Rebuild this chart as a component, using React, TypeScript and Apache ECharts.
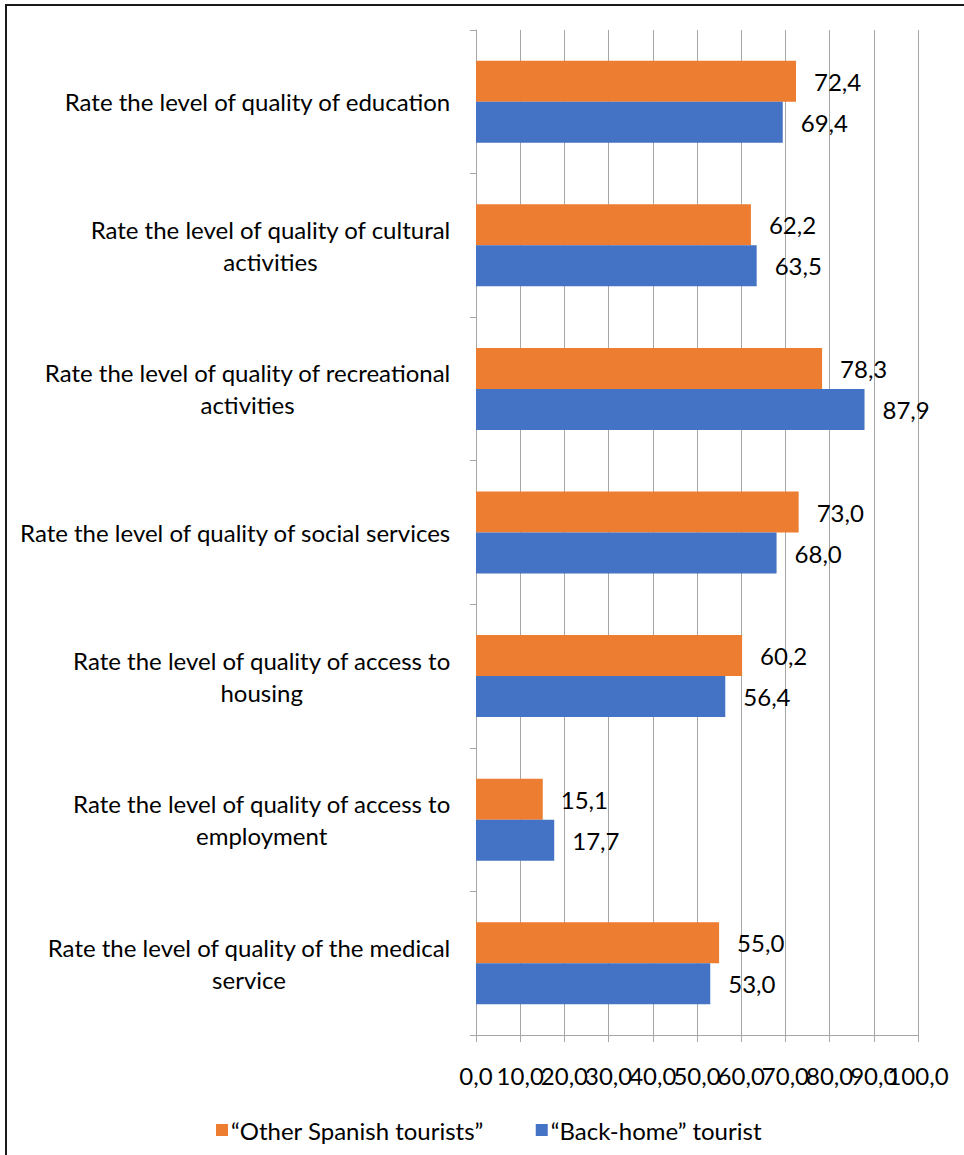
import React, { useEffect, useRef } from "react";
import * as echarts from "echarts";

const categories = [
  "Rate the level of quality of education",
  "Rate the level of quality of cultural\nactivities",
  "Rate the level of quality of recreational\nactivities",
  "Rate the level of quality of social services",
  "Rate the level of quality of access to\nhousing",
  "Rate the level of quality of access to\nemployment",
  "Rate the level of quality of the medical\nservice",
];

const otherSpanish = [72.4, 62.2, 78.3, 73.0, 60.2, 15.1, 55.0];
const backHome = [69.4, 63.5, 87.9, 68.0, 56.4, 17.7, 53.0];

const seriesNames = ["\u201COther Spanish tourists\u201D", "\u201CBack-home\u201D tourist"];

const AXIS_MIN = 0;
const AXIS_MAX = 100;
const AXIS_STEP = 10;

const FONT = "Lato, 'Noto Sans', sans-serif";
const fmt = (v: number) => v.toFixed(1).replace(".", ",");

export default function App() {
  const ref = useRef<HTMLDivElement>(null);

  useEffect(() => {
    if (!ref.current) return;
    const chart = echarts.init(ref.current, undefined, { renderer: "svg" });

    const valueLabel = {
      show: true,
      position: "right" as const,
      distance: 18,
      color: "#000",
      fontSize: 24,
      fontFamily: FONT,
      formatter: (p: any) => fmt(p.value),
    };

    const tickLabelStyle = {
      color: "#000",
      fontSize: 24,
      fontFamily: FONT,
      margin: 28,
      hideOverlap: false,
      showMinLabel: true,
      showMaxLabel: true,
    };

    // Tick labels are split over two overlaid axes so that the crowded
    // "90,0" / "100,0" pair are both kept visible.
    chart.setOption({
      animation: false,
      backgroundColor: "#fff",
      textStyle: { fontFamily: FONT },
      grid: { left: 476, right: 46, top: 30, bottom: 120, containLabel: false },
      legend: {
        left: 211,
        top: 1113,
        itemWidth: 12,
        itemHeight: 12,
        itemGap: 52,
        icon: "rect",
        textStyle: { fontSize: 24, color: "#000", fontFamily: FONT, padding: [0, 0, 0, -2] },
        data: seriesNames,
      },
      xAxis: [
        {
          type: "value",
          position: "bottom",
          min: AXIS_MIN,
          max: AXIS_MAX,
          interval: AXIS_STEP,
          axisLine: { show: true, lineStyle: { color: "#A6A6A6", width: 1 } },
          axisTick: { show: true, length: 7, lineStyle: { color: "#A6A6A6" } },
          axisLabel: {
            ...tickLabelStyle,
            formatter: (v: number) => (v === AXIS_MAX ? "" : fmt(v)),
          },
          splitLine: { show: true, lineStyle: { color: "#A6A6A6", width: 1 } },
        },
        {
          type: "value",
          position: "bottom",
          min: AXIS_MIN,
          max: AXIS_MAX,
          interval: AXIS_STEP,
          axisLine: { show: false },
          axisTick: { show: false },
          splitLine: { show: false },
          axisLabel: {
            ...tickLabelStyle,
            formatter: (v: number) => (v === AXIS_MAX ? fmt(v) : ""),
          },
        },
      ],
      yAxis: {
        type: "category",
        inverse: true,
        data: categories,
        axisLine: { show: true, lineStyle: { color: "#A6A6A6", width: 1 } },
        axisTick: { show: true, length: 6, inside: false, lineStyle: { color: "#A6A6A6" } },
        axisLabel: {
          margin: 25,
          align: "right",
          formatter: (v: string) =>
            v
              .split("\n")
              .map((l) => `{c|${l}}`)
              .join("\n"),
          rich: {
            c: {
              align: "center",
              fontSize: 24,
              lineHeight: 32,
              color: "#000",
              fontFamily: FONT,
            },
          },
        },
      },
      series: [
        {
          name: seriesNames[0],
          type: "bar",
          xAxisIndex: 0,
          data: otherSpanish,
          barWidth: 41,
          barGap: "0%",
          itemStyle: { color: "#ED7D31" },
          label: valueLabel,
        },
        {
          name: seriesNames[1],
          type: "bar",
          xAxisIndex: 0,
          data: backHome,
          barWidth: 41,
          barGap: "0%",
          itemStyle: { color: "#4472C4" },
          label: valueLabel,
        },
      ],
      graphic: [
        {
          type: "line",
          shape: { x1: 5, y1: 5, x2: 964, y2: 5 },
          style: { stroke: "#1a1a1a", lineWidth: 2 },
        },
        {
          type: "line",
          shape: { x1: 6, y1: 4, x2: 6, y2: 1155 },
          style: { stroke: "#1a1a1a", lineWidth: 2 },
        },
      ],
    });

    return () => chart.dispose();
  }, []);

  return (
    <div style={{ position: "fixed", left: 0, top: 0, width: 964, height: 1155, background: "#fff" }}>
      <div ref={ref} style={{ width: 964, height: 1155 }} />
    </div>
  );
}
